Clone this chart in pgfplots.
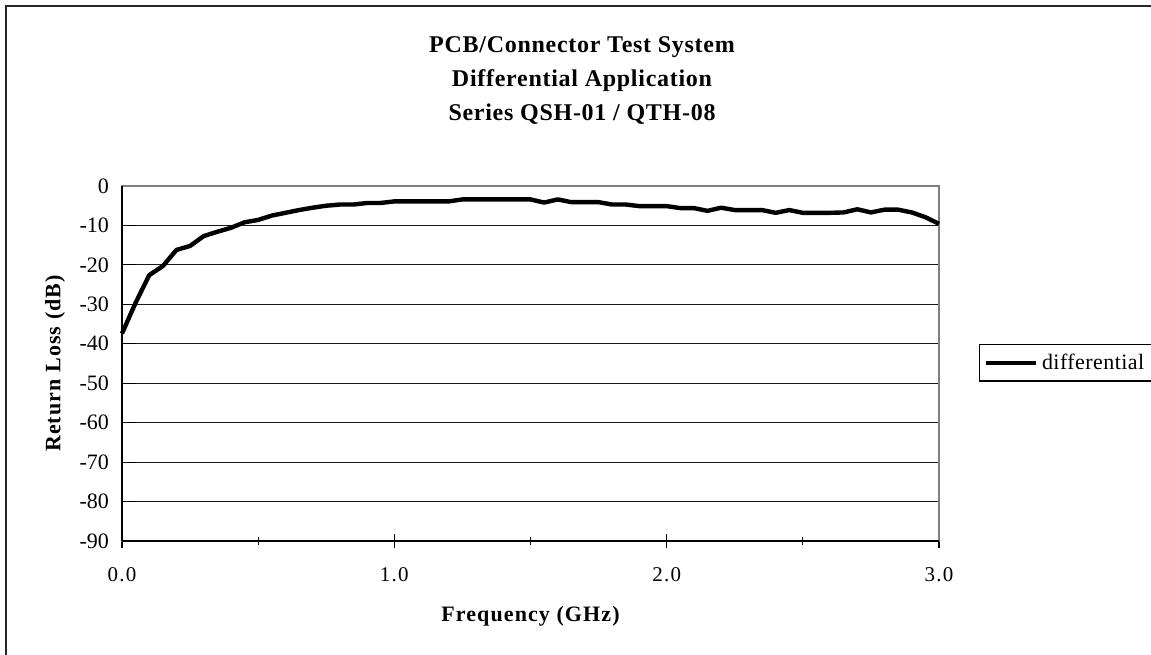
\documentclass[border=0pt]{standalone}
\usepackage{pgfplots}
\pgfplotsset{compat=1.18}
\usepackage{fontspec}
\setmainfont{Liberation Serif}

\begin{document}
\begin{tikzpicture}
% page size (1151 x 654 px at 0.5pt/px), axis origin at px (122,541)
\useasboundingbox (-61pt,-56.5pt) rectangle (514.5pt,270.5pt);
\draw[line width=1pt,black!85] (-58pt,-60pt) -- (-58pt,267.5pt) -- (520pt,267.5pt);

\node[align=center,font=\fontsize{12}{17}\selectfont\bfseries\addfontfeatures{LetterSpace=3}]
  at (230pt,230pt) {PCB/Connector Test System\\Differential Application\\Series QSH-01 / QTH-08};

\begin{axis}[
    scale only axis,
    width=408.5pt, height=177.5pt,
    xmin=0, xmax=3,
    ymin=-90, ymax=0,
    xtick={0,1,2,3},
    xticklabels={0.0,1.0,2.0,3.0},
    minor xtick={0.5,1.5,2.5},
    ytick={-90,-80,-70,-60,-50,-40,-30,-20,-10,0},
    yticklabels={-90,-80,-70,-60,-50,-40,-30,-20,-10,0},
    ymajorgrids=true,
    grid style={line width=0.6pt, draw=black!90},
    axis line style={draw=black!50, line width=0.8pt},
    tick style={draw=black, line width=0.6pt},
    major tick length=7pt,
    minor tick length=4pt,
    xtick align=center,
    ytick pos=left, xtick pos=bottom,
    y tick label style={font=\fontsize{11}{13}\selectfont, xshift=-3pt},
    x tick label style={font=\fontsize{10.5}{12}\selectfont\addfontfeatures{LetterSpace=6}, yshift=-6pt},
    xlabel={Frequency (GHz)},
    ylabel={Return Loss (dB)},
    xlabel style={font=\fontsize{11}{13}\selectfont\bfseries\addfontfeatures{LetterSpace=5},
        at={(axis description cs:0.5,0)}, anchor=center, yshift=-37.5pt},
    ylabel style={font=\fontsize{11}{13}\selectfont\bfseries\addfontfeatures{LetterSpace=5},
        at={(axis description cs:0,0.5)}, anchor=center, rotate=0, yshift=33.5pt},
    legend style={at={(1.049,0.555)}, anchor=north west, draw=black, line width=0.6pt,
        font=\fontsize{11}{13}\selectfont\addfontfeatures{LetterSpace=2}, inner xsep=2pt, inner ysep=2.5pt},
    legend cell align=left,
    legend image code/.code={\draw[#1] (0pt,0pt) -- (25pt,0pt);},
    clip=false,
]
\draw[black, line width=0.8pt] (axis cs:0,-90) -- (axis cs:0,0);
\draw[black, line width=0.8pt] (axis cs:0,-90) -- (axis cs:3,-90);
\addplot[black, line width=2.2pt, line join=round] coordinates {
(0.00,-37.4) (0.05,-29.6) (0.10,-22.6) (0.15,-20.3) (0.20,-16.2) (0.25,-15.2)
(0.30,-12.7) (0.35,-11.6) (0.40,-10.6) (0.45,-9.2) (0.50,-8.6) (0.55,-7.5)
(0.60,-6.8) (0.65,-6.1) (0.70,-5.5) (0.75,-5.0) (0.80,-4.7) (0.85,-4.7)
(0.90,-4.3) (0.95,-4.3) (1.00,-3.9) (1.05,-3.9) (1.10,-3.9) (1.15,-3.9)
(1.20,-3.9) (1.25,-3.4) (1.30,-3.4) (1.35,-3.4) (1.40,-3.4) (1.45,-3.4)
(1.50,-3.4) (1.55,-4.2) (1.60,-3.4) (1.65,-4.1) (1.70,-4.1) (1.75,-4.1)
(1.80,-4.7) (1.85,-4.7) (1.90,-5.1) (1.95,-5.1) (2.00,-5.1) (2.05,-5.6)
(2.10,-5.6) (2.15,-6.3) (2.20,-5.5) (2.25,-6.1) (2.30,-6.1) (2.35,-6.1)
(2.40,-6.8) (2.45,-6.1) (2.50,-6.8) (2.55,-6.8) (2.60,-6.8) (2.65,-6.7)
(2.70,-5.9) (2.75,-6.7) (2.80,-6.0) (2.85,-6.0) (2.90,-6.7) (2.95,-7.9)
(3.00,-9.6)
};
\addlegendentry{differential}
\end{axis}
\end{tikzpicture}
\end{document}
